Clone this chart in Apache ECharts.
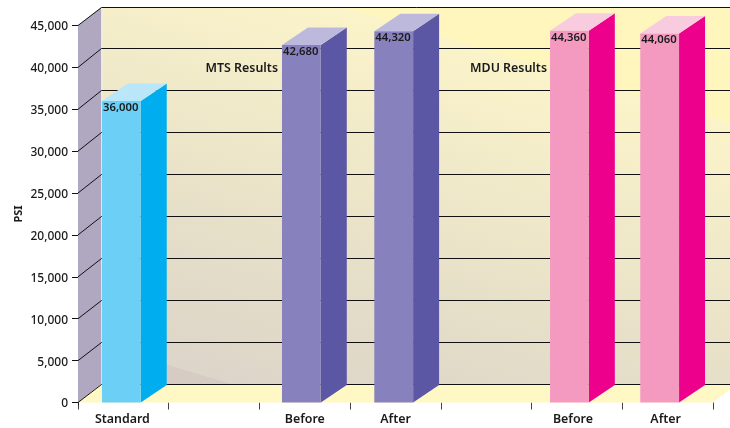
<!DOCTYPE html>
<html>
<head>
<meta charset="utf-8">
<style>html,body{margin:0;padding:0;background:#fff}#chart{width:730px;height:428px}</style>
<script src="https://cdn.jsdelivr.net/npm/echarts@6/dist/echarts.min.js"></script>
</head>
<body>
<div id="chart"></div>
<script>
// Tensile strength readings, in PSI
const categories = ['Standard', '', 'Before', 'After', '', 'Before', 'After'];
const standardValues = [36000, null, null, null, null, null, null];
const mtsValues = [null, null, 42680, 44320, null, null, null];
const mduValues = [null, null, null, null, null, 44360, 44060];
const axisTicks = [0, 5000, 10000, 15000, 20000, 25000, 30000, 35000, 40000, 45000];
const groupNotes = ['MTS Results', 'MDU Results'];

// Oblique projection of the box: how far the back plane sits from the front
const DEPTH_X = 23.5;
const DEPTH_Y = 18.4;
const BAR_W = 38.8;
const BAR_DEPTH_X = 26;
const BAR_DEPTH_Y = 17.5;
// Small per-slot shift of each column from the centre of its category
const SLOT_SHIFT = [-2, 0, -3.4, -1.8, 0, -7.5, -8];
const FONT = '"Noto Sans", sans-serif';
const INK = '#1a1a1a';

const palettes = {
  standard: { front: '#6bcff6', side: '#00aeef', top: '#b9e6f9' },
  mts: { front: '#8781bd', side: '#5c57a5', top: '#bcb9dc' },
  mdu: { front: '#f49ac1', side: '#ec008c', top: '#f9cbdf' }
};

function renderFrame(params, api) {
  const tick = api.value(0);
  const left = params.coordSys.x;
  const right = params.coordSys.x + params.coordSys.width;
  const front = api.coord([0, tick])[1];
  const back = Math.floor(front - DEPTH_Y) + 0.5;
  const children = [];
  if (tick === 0) {
    const topY = api.coord([0, 45000])[1];
    const baseY = front;
    const wallX = left + DEPTH_X;
    children.push({
      type: 'polygon',
      shape: { points: [[left, topY], [wallX, topY - DEPTH_Y], [wallX, baseY - DEPTH_Y], [left, baseY]] },
      style: { fill: '#b0a8c0' }
    });
    // Back wall: yellow fading into beige towards the lower left, with hard edges at both ends
    children.push({
      type: 'rect',
      shape: { x: wallX, y: topY - DEPTH_Y, width: 730, height: baseY - topY },
      style: {
        fill: new echarts.graphic.LinearGradient(167, 365, 280, -12, [
          { offset: 0, color: '#d6ccc3' },
          { offset: 0.001, color: '#ddd5c9' },
          { offset: 0.3, color: '#e4ddc8' },
          { offset: 0.7, color: '#f1eac9' },
          { offset: 0.999, color: '#fbf4c9' },
          { offset: 1, color: '#fff6bd' }
        ], true)
      }
    });
    children.push({
      type: 'polygon',
      shape: { points: [[left, baseY], [wallX, baseY - DEPTH_Y], [right + DEPTH_X, baseY - DEPTH_Y], [right, baseY]] },
      style: { fill: '#fff8c4' }
    });
    children.push({
      type: 'line',
      shape: { x1: wallX + 0.5, y1: topY - DEPTH_Y, x2: wallX + 0.5, y2: baseY - DEPTH_Y },
      style: { stroke: '#f4f0e4', lineWidth: 1 }
    });
    children.push({
      type: 'line',
      shape: { x1: left + 0.5, y1: baseY, x2: left + 0.5, y2: baseY + 3 },
      style: { stroke: '#222', lineWidth: 1 }
    });
  }
  children.push({
    type: 'polyline',
    shape: { points: [[left, front], [left + DEPTH_X, back], [right + 40, back]] },
    style: { stroke: '#111', lineWidth: 1, fill: null }
  });
  return { type: 'group', children };
}

function renderColumn(palette) {
  return function (params, api) {
    const slot = api.value(0);
    const value = api.value(1);
    const base = api.coord([slot, 0]);
    const top = api.coord([slot, value]);
    const x0 = base[0] - BAR_W / 2 + SLOT_SHIFT[slot];
    const x1 = x0 + BAR_W;
    const dx = BAR_DEPTH_X;
    const dy = BAR_DEPTH_Y;
    return {
      type: 'group',
      children: [
        { type: 'polygon', shape: { points: [[x1, top[1]], [x1 + dx, top[1] - dy], [x1 + dx, base[1] - dy], [x1, base[1]]] }, style: { fill: palette.side } },
        { type: 'polygon', shape: { points: [[x0, top[1]], [x0 + dx, top[1] - dy], [x1 + dx, top[1] - dy], [x1, top[1]]] }, style: { fill: palette.top } },
        { type: 'rect', shape: { x: x0, y: top[1], width: BAR_W, height: base[1] - top[1] }, style: { fill: palette.front } },
        {
          type: 'text',
          x: x0 + 1,
          y: top[1] + 6.5,
          style: {
            text: echarts.format.addCommas(value),
            fill: INK,
            font: '600 11.3px ' + FONT,
            align: 'left',
            verticalAlign: 'middle'
          }
        }
      ]
    };
  };
}

function columnSeries(name, values, palette) {
  return {
    type: 'custom',
    name,
    coordinateSystem: 'cartesian2d',
    clip: false,
    z: 3,
    renderItem: renderColumn(palette),
    encode: { x: 0, y: 1 },
    data: values.map((v, i) => [i, v]).filter(d => d[1] !== null)
  };
}

const chart = echarts.init(document.getElementById('chart'), null, { renderer: 'canvas' });
const labelBase = { color: INK, fontFamily: FONT, fontSize: 12.4, fontWeight: 600 };
const tickBase = { color: INK, fontFamily: FONT, fontSize: 12, fontWeight: 500 };
chart.setOption({
  animation: false,
  grid: { left: 78, right: 17, top: 25.5, bottom: 25.5, containLabel: false },
  xAxis: {
    type: 'category',
    data: categories,
    offset: 2,
    axisLine: { show: false },
    axisTick: { show: true, length: 7, alignWithLabel: false, lineStyle: { color: '#444', width: 1 } },
    axisLabel: {
      interval: 0,
      margin: 9,
      ...labelBase,
      // The MDU captions and the first caption sit slightly left of their slot centres
      formatter: (value, index) => {
        if (!value) return '';
        if (index === 5) return '{far|' + value + '}';
        if (index === 6) return '{near|' + value + '}';
        if (index === 0) return '{slight|' + value + '}';
        return value;
      },
      rich: {
        far: { ...labelBase, padding: [0, 8, 0, 0] },
        near: { ...labelBase, padding: [0, 4, 0, 0] },
        slight: { ...labelBase, padding: [0, 2, 0, 0] }
      }
    }
  },
  yAxis: {
    type: 'value',
    min: 0,
    max: 45000,
    interval: 5000,
    name: 'PSI',
    nameLocation: 'middle',
    nameGap: 54,
    nameMoveOverlap: false,
    nameTextStyle: { color: INK, fontFamily: FONT, fontSize: 11, fontWeight: 700 },
    axisLine: { show: false },
    axisTick: { show: true, length: 6, lineStyle: { color: '#111', width: 1 } },
    splitLine: { show: false },
    axisLabel: {
      margin: 10,
      ...tickBase,
      formatter: v => '{tick|' + echarts.format.addCommas(v) + '}',
      rich: { tick: { ...tickBase, padding: [3, 0, 0, 0] } }
    }
  },
  series: [
    {
      type: 'custom',
      coordinateSystem: 'cartesian2d',
      clip: false,
      silent: true,
      z: 1,
      renderItem: renderFrame,
      encode: { y: 0 },
      data: axisTicks.map(t => [t])
    },
    columnSeries('Standard', standardValues, palettes.standard),
    columnSeries('MTS', mtsValues, palettes.mts),
    columnSeries('MDU', mduValues, palettes.mdu)
  ],
  graphic: [
    { type: 'text', right: 730 - 278, top: 62, z: 5, style: { text: groupNotes[0], fill: INK, font: '600 12.4px ' + FONT } },
    { type: 'text', right: 730 - 547, top: 62, z: 5, style: { text: groupNotes[1], fill: INK, font: '600 12.4px ' + FONT } }
  ]
});
</script>
</body>
</html>
